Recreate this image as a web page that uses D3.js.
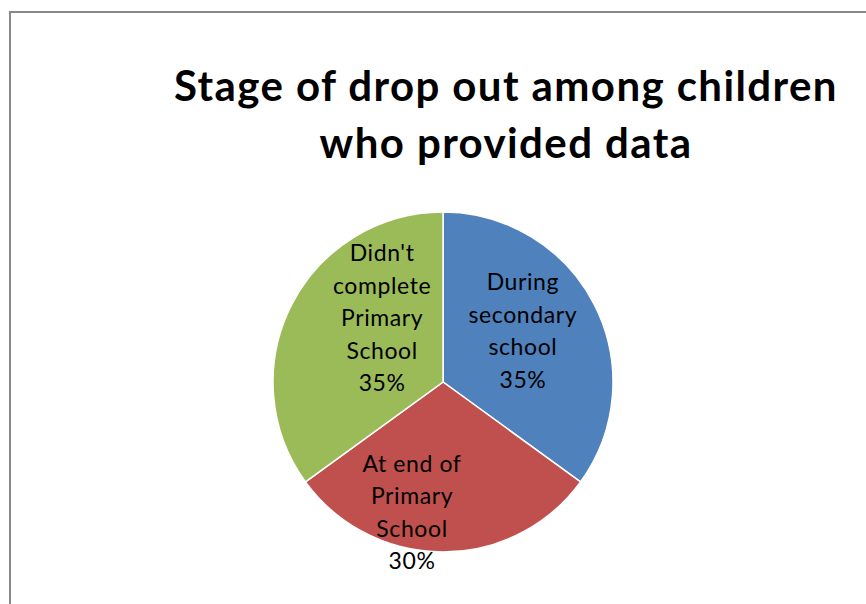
<!DOCTYPE html>
<html>
<head>
<meta charset="utf-8">
<script src="https://cdn.jsdelivr.net/npm/d3@7"></script>
<style>
  html, body { margin: 0; padding: 0; background: #fff; }
  svg { display: block; }
</style>
</head>
<body>
<svg id="chart" width="866" height="604"></svg>
<script>
// Stage at which children dropped out of school
const categories = ["During secondary school", "At end of Primary School", "Didn't complete Primary School"];
const values = [35, 30, 35];
const labelLines = [
  ["During", "secondary", "school"],
  ["At end of", "Primary", "School"],
  ["Didn't", "complete", "Primary", "School"]
];
const colors = ["#4F81BD", "#C0504D", "#9BBB59"];
const titleLines = ["Stage of drop out among children", "who provided data"];

const W = 866, H = 604;
const svg = d3.select("#chart");
const font = "Lato, 'Open Sans', sans-serif";

// chart area frame (right and bottom edges fall outside the view)
svg.append("rect")
  .attr("x", 10).attr("y", 12)
  .attr("width", W + 20).attr("height", H + 20)
  .attr("fill", "#fff")
  .attr("stroke", "#898989")
  .attr("stroke-width", 2);

// title
const title = svg.append("text")
  .attr("text-anchor", "middle")
  .attr("font-family", font)
  .attr("font-weight", "bold")
  .attr("font-size", 42)
  .attr("letter-spacing", 1.4)
  .attr("fill", "#000");
titleLines.forEach((t, i) => {
  title.append("tspan").attr("x", 506).attr("y", 101 + i * 57).text(t);
});

// pie
const cx = 443, cy = 382, R = 170;
const data = categories.map((c, i) => ({ name: c, value: values[i], lines: labelLines[i], color: colors[i] }));
const pie = d3.pie().value(d => d.value).sort(null);
const arcs = pie(data);
const arc = d3.arc().innerRadius(0).outerRadius(R);

const g = svg.append("g").attr("transform", `translate(${cx},${cy})`);
g.selectAll("path.slice")
  .data(arcs)
  .join("path")
  .attr("class", "slice")
  .attr("d", arc)
  .attr("fill", d => d.data.color)
  .attr("stroke", "#fff")
  .attr("stroke-width", 1.5);

// data labels: category name plus percentage, stacked in the slice
const total = d3.sum(values);
const lineH = 32.5;
const labelArc = d3.arc().innerRadius(R * 0.62).outerRadius(R * 0.62);
const labelShift = [[-14, -3], [-31, 25], [33, -16]];
g.selectAll("text.lbl")
  .data(arcs)
  .join("text")
  .attr("class", "lbl")
  .attr("text-anchor", "middle")
  .attr("font-family", font)
  .attr("font-size", 23)
  .attr("letter-spacing", 0.6)
  .attr("fill", "#000")
  .each(function (d, i) {
    const [x, y] = labelArc.centroid(d);
    const lines = d.data.lines.concat([d3.format(".0%")(d.data.value / total)]);
    const top = y + labelShift[i][1] - (lines.length - 1) * lineH / 2;
    const t = d3.select(this);
    lines.forEach((s, k) => {
      t.append("tspan")
        .attr("x", x + labelShift[i][0])
        .attr("y", top + k * lineH)
        .attr("dy", "0.35em")
        .text(s);
    });
  });
</script>
</body>
</html>
